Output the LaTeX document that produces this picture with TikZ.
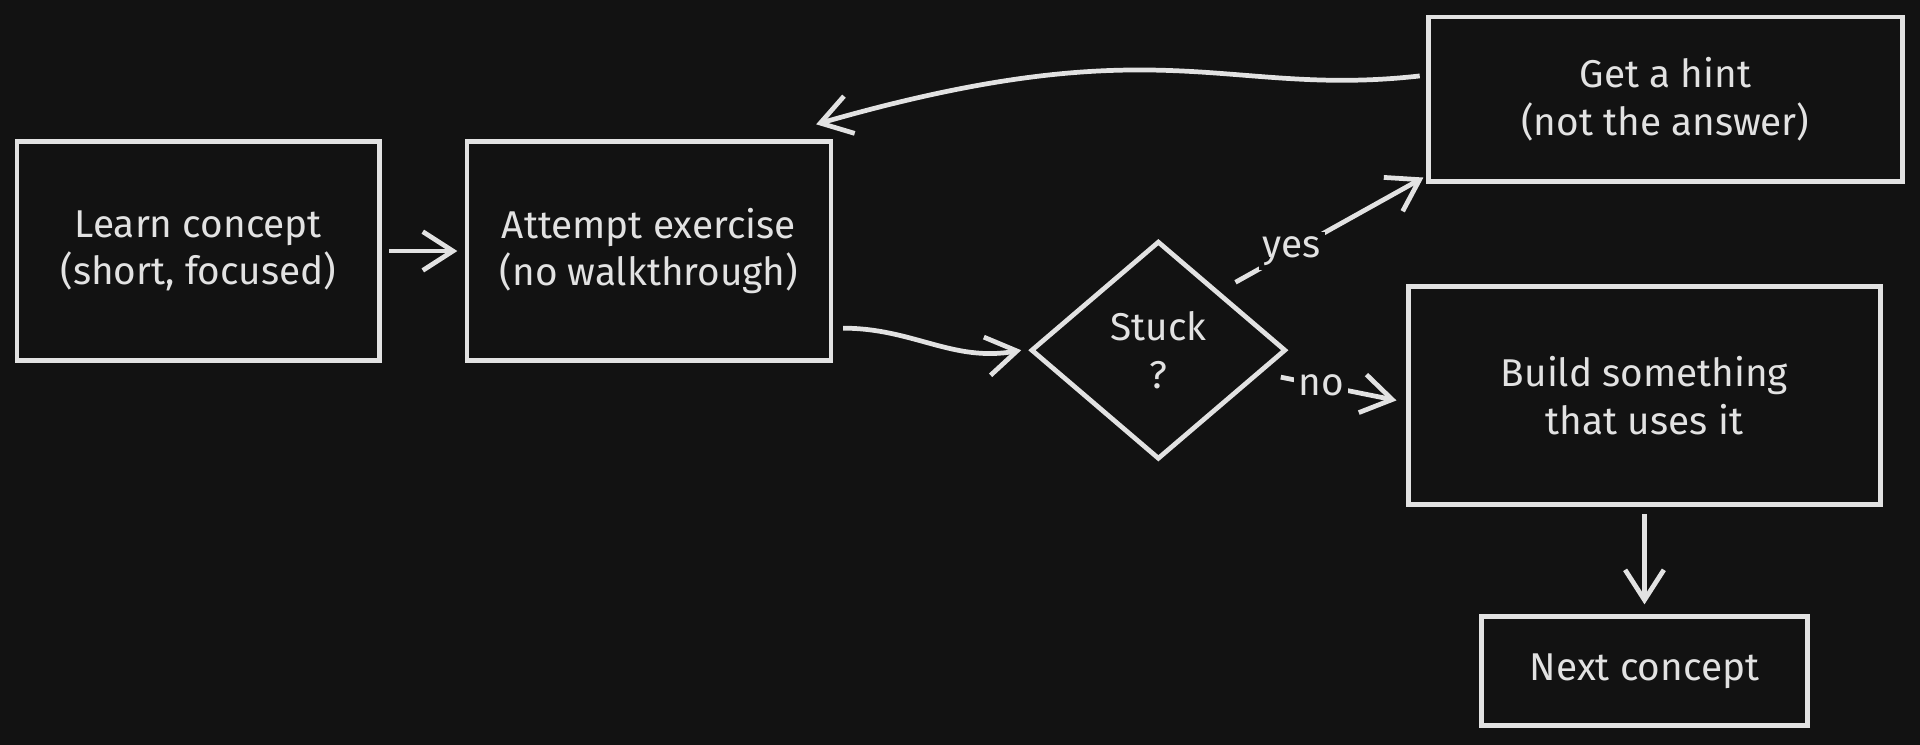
\documentclass[tikz,border=0pt]{standalone}
\usepackage{fontspec}
\setmainfont{Fira Sans}
\usetikzlibrary{positioning, shapes.geometric, arrows.meta, calc}
\definecolor{bgdark}{HTML}{121212}
\definecolor{inkline}{HTML}{E2E2E2}
\begin{document}
\begin{tikzpicture}[x=0.01cm, y=-0.01cm,
  every node/.style={text=inkline, font=\fontsize{9}{11}\selectfont, align=center},
  stepbox/.style={draw=inkline, line width=1.1pt, rectangle},
  choice/.style={draw=inkline, line width=1.1pt, diamond, aspect=1.17, inner sep=0pt},
  flow/.style={draw=inkline, line width=1.1pt, -{Straight Barb[length=7pt,width=9pt]}}]
\fill[bgdark] (0,0) rectangle (1568,608);

% Main row
\node[stepbox, minimum width=2.96cm, minimum height=1.79cm] (learn) at (162,205) {Learn concept\\(short, focused)};
\node[stepbox, minimum width=2.97cm, minimum height=1.79cm] (attempt) at (530,205) {Attempt exercise\\(no walkthrough)};
\node[choice, minimum width=2.08cm, minimum height=1.78cm] (stuck) at (946,286) {Stuck\\?};

% Right side
\node[stepbox, minimum width=3.87cm, minimum height=1.34cm] (hint) at (1360,81) {Get a hint\\(not the answer)};
\node[stepbox, minimum width=3.85cm, minimum height=1.78cm] (build) at (1343,323) {Build something\\that uses it};
\node[stepbox, minimum width=2.66cm, minimum height=0.89cm] (next) at (1343,548) {Next concept};

% Connectors
\draw[flow] ($(learn.east)+(6,0)$) -- ($(attempt.west)+(-6,0)$);
\draw[flow] ($(attempt.east)+(8,63)$) to[out=0, in=190] ($(stuck.west)+(-6,0)$);
\draw[flow] ($(stuck.north east)+(10,-10)$) -- node[pos=0.3, fill=bgdark, inner sep=1pt] {yes} ($(hint.south west)+(-2,-5)$);
\draw[flow] ($(stuck.east)+(-6,22)$) -- node[pos=0.35, fill=bgdark, inner sep=1pt] {no} ($(build.west)+(-8,4)$);
\draw[flow] ($(build.south)+(0,6)$) -- ($(next.north)+(0,-8)$);
\draw[flow] ($(hint.west)+(-5,-19)$) .. controls (1000,80) and (950,20) .. ($(attempt.north east)+(-14,-12)$);
\end{tikzpicture}
\end{document}
